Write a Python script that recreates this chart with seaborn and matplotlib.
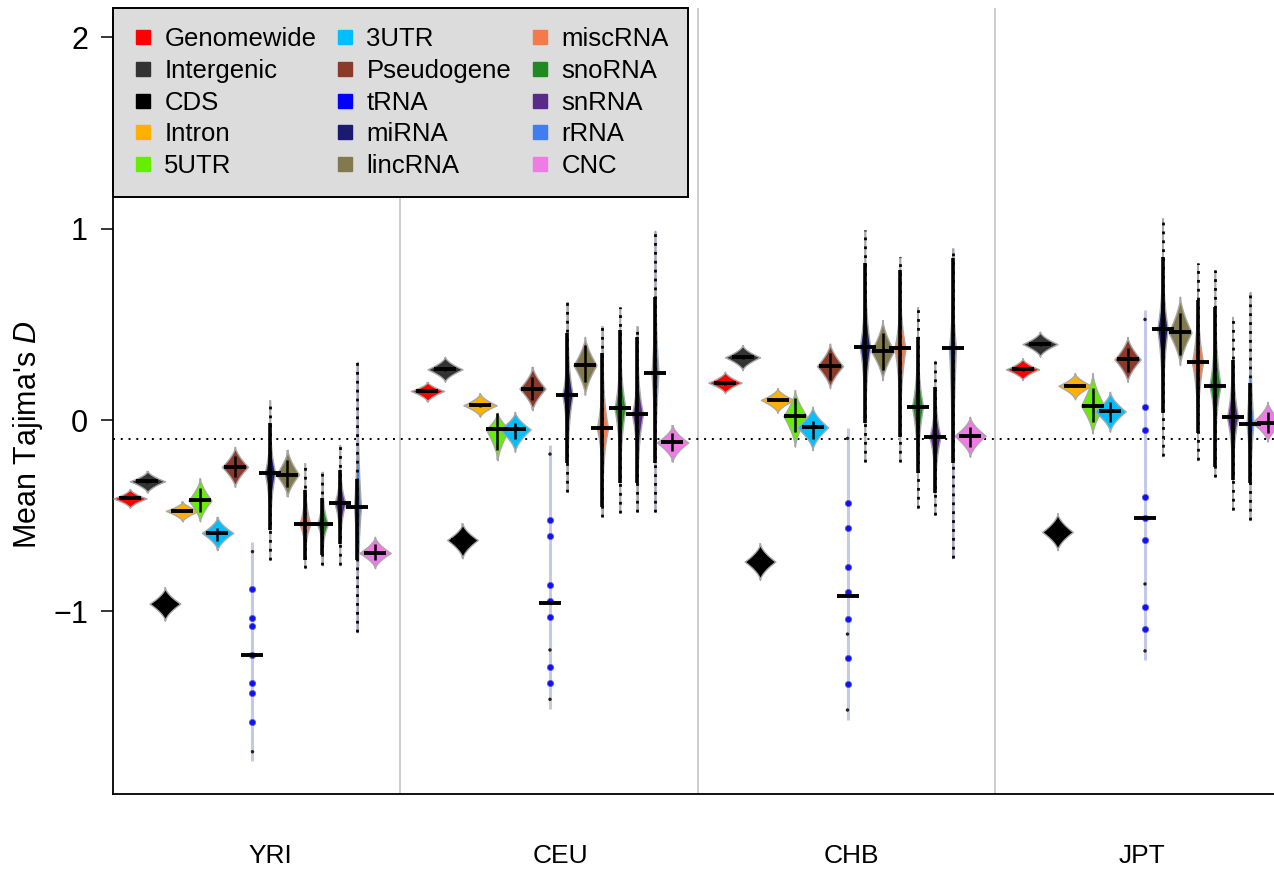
import numpy as np
import pandas as pd
import matplotlib
matplotlib.use("Agg")
import matplotlib.pyplot as plt
from matplotlib.lines import Line2D
import seaborn as sns

# ---------------------------------------------------------------- data
populations = ["YRI", "CEU", "CHB", "JPT"]
categories = ["Genomewide", "Intergenic", "CDS", "Intron", "5UTR", "3UTR",
              "Pseudogene", "tRNA", "miRNA", "lincRNA", "miscRNA", "snoRNA",
              "snRNA", "rRNA", "CNC"]

# mean Tajima's D per annotation class
mean_YRI = [-0.41, -0.32, -0.96, -0.475, -0.42, -0.59, -0.245, -1.23, -0.275,
            -0.285, -0.545, -0.545, -0.435, -0.455, -0.695]
mean_CEU = [0.152, 0.265, -0.627, 0.077, -0.049, -0.049, 0.164, -0.955, 0.131,
            0.287, -0.044, 0.061, 0.030, 0.247, -0.117]
mean_CHB = [0.195, 0.328, -0.74, 0.105, 0.021, -0.038, 0.282, -0.918, 0.38,
            0.36, 0.375, 0.07, -0.089, 0.375, -0.082]
mean_JPT = [0.265, 0.397, -0.585, 0.179, 0.075, 0.045, 0.317, -0.512, 0.476,
            0.458, 0.301, 0.179, 0.014, -0.019, -0.014]

# full range of the bootstrap distribution
low_YRI = [-0.46, -0.38, -1.05, -0.53, -0.53, -0.68, -0.35, -1.78, -0.73,
           -0.40, -0.775, -0.76, -0.76, -1.11, -0.775]
high_YRI = [-0.36, -0.265, -0.875, -0.425, -0.305, -0.505, -0.14, -0.635, 0.105,
            -0.155, -0.225, -0.27, -0.13, 0.305, -0.61]
low_CEU = [0.096, 0.20, -0.723, 0.017, -0.21, -0.166, 0.052, -1.51, -0.375,
           0.131, -0.505, -0.484, -0.48, -0.48, -0.218]
high_CEU = [0.20, 0.331, -0.54, 0.14, 0.038, 0.043, 0.279, -0.13, 0.618,
            0.435, 0.49, 0.59, 0.49, 0.99, -0.026]
low_CHB = [0.14, 0.261, -0.836, 0.038, -0.139, -0.157, 0.166, -1.568, -0.218,
           0.209, -0.218, -0.46, -0.497, -0.723, -0.192]
high_CHB = [0.253, 0.392, -0.645, 0.166, 0.157, 0.07, 0.40, -0.044, 0.993,
            0.523, 0.854, 0.59, 0.31, 0.898, 0.017]
low_JPT = [0.209, 0.331, -0.68, 0.108, -0.07, -0.061, 0.20, -1.255, -0.19,
           0.287, -0.21, -0.296, -0.47, -0.523, -0.113]
high_JPT = [0.322, 0.462, -0.488, 0.244, 0.244, 0.148, 0.435, 0.575, 1.054,
            0.645, 0.82, 0.784, 0.54, 0.67, 0.096]

# dense central part of each distribution
core_low_YRI = [-0.415, -0.33, -0.97, -0.48, -0.48, -0.63, -0.30, -1.23, -0.575,
                -0.35, -0.73, -0.705, -0.65, -0.73, -0.73]
core_high_YRI = [-0.40, -0.31, -0.95, -0.47, -0.355, -0.565, -0.19, -1.23, -0.015,
                 -0.21, -0.365, -0.41, -0.26, -0.31, -0.65]
core_low_CEU = [0.145, 0.255, -0.637, 0.07, -0.157, -0.10, 0.105, -0.955, -0.226,
                0.20, -0.453, -0.331, -0.331, -0.226, -0.16]
core_high_CEU = [0.16, 0.275, -0.617, 0.085, 0.035, -0.013, 0.227, -0.955, 0.453,
                 0.392, 0.349, 0.47, 0.435, 0.644, -0.07]
core_low_CHB = [0.185, 0.318, -0.75, 0.098, -0.061, -0.10, 0.209, -0.918, -0.017,
                0.261, -0.087, -0.279, -0.383, -0.226, -0.14]
core_high_CHB = [0.205, 0.338, -0.73, 0.112, 0.113, -0.007, 0.349, -0.918, 0.819,
                 0.453, 0.784, 0.435, 0.174, 0.845, -0.035]
core_low_JPT = [0.255, 0.387, -0.595, 0.172, -0.009, -0.009, 0.252, -0.512, 0.035,
                0.34, -0.07, -0.244, -0.314, -0.331, -0.07]
core_high_JPT = [0.275, 0.407, -0.575, 0.186, 0.166, 0.096, 0.375, -0.512, 0.854,
                 0.558, 0.627, 0.592, 0.314, 0.192, 0.043]

# tRNA bootstrap values (few genes -> discrete values)
trna_dense_YRI = [-0.884, -1.037, -1.077, -1.228, -1.377, -1.425, -1.577]
trna_sparse_YRI = [-0.688, -1.734]
trna_dense_CEU = [-0.523, -0.606, -0.862, -0.945, -1.031, -1.29, -1.377]
trna_sparse_CEU = [-0.178, -1.202, -1.46]
trna_dense_CHB = [-0.436, -0.566, -0.77, -0.897, -1.042, -1.246, -1.38]
trna_sparse_CHB = [-0.096, -1.119, -1.516]
trna_dense_JPT = [0.066, -0.052, -0.401, -0.514, -0.627, -0.976, -1.094]
trna_sparse_JPT = [0.526, -0.857, -1.207]

neutral_line = -0.1

# ---------------------------------------------------------------- styles
colors = ["#ff0000", "#333333", "#000000", "#ffb000", "#66ee00", "#00bfff",
          "#8b3a2a", "#0000ff", "#1a1a6e", "#827a4e", "#f47a4a", "#1f8a1f",
          "#5a2a8a", "#3f7df0", "#f07ae6"]
half_width = [0.95, 1.0, 0.88, 0.95, 0.66, 0.9, 0.75, 0.12, 0.3, 0.66,
              0.32, 0.32, 0.32, 0.2, 0.9]
peak = [1.6, 1.6, 1.6, 1.6, 1.5, 1.6, 1.5, 0.0, 3.5, 1.5, 3.5, 3.5, 3.5, 3.0, 1.6]
rna_like = {"miRNA", "miscRNA", "snoRNA", "snRNA", "rRNA"}
slots_per_group = 17

sns.set_theme(style="white")
plt.rcParams["font.family"] = ["Liberation Sans", "DejaVu Sans"]
plt.rcParams["mathtext.fontset"] = "custom"
plt.rcParams["mathtext.rm"] = "Liberation Sans"
plt.rcParams["mathtext.it"] = "Liberation Sans:italic"
for key in ("text.color", "axes.labelcolor", "xtick.color", "ytick.color"):
    plt.rcParams[key] = "black"

tables = {
    "YRI": (mean_YRI, low_YRI, high_YRI, core_low_YRI, core_high_YRI),
    "CEU": (mean_CEU, low_CEU, high_CEU, core_low_CEU, core_high_CEU),
    "CHB": (mean_CHB, low_CHB, high_CHB, core_low_CHB, core_high_CHB),
    "JPT": (mean_JPT, low_JPT, high_JPT, core_low_JPT, core_high_JPT),
}
rows = []
for g, pop in enumerate(populations):
    m, lo, hi, clo, chi = tables[pop]
    for i, cat in enumerate(categories):
        rows.append(dict(pop=pop, category=cat, idx=i,
                         x=g * slots_per_group + i, mean=m[i], low=lo[i],
                         high=hi[i], core_low=clo[i], core_high=chi[i]))
df = pd.DataFrame(rows)

trna_dense = {"YRI": trna_dense_YRI, "CEU": trna_dense_CEU,
              "CHB": trna_dense_CHB, "JPT": trna_dense_JPT}
trna_sparse = {"YRI": trna_sparse_YRI, "CEU": trna_sparse_CEU,
               "CHB": trna_sparse_CHB, "JPT": trna_sparse_JPT}
trna_points = []
for g, pop in enumerate(populations):
    xpos = g * slots_per_group + categories.index("tRNA")
    trna_points += [dict(x=xpos, value=v, kind="dense") for v in trna_dense[pop]]
    trna_points += [dict(x=xpos, value=v, kind="sparse") for v in trna_sparse[pop]]
trna_df = pd.DataFrame(trna_points)

# ---------------------------------------------------------------- figure
fig = plt.figure(figsize=(12.74, 8.69), dpi=100)
ax = fig.add_axes([113 / 1274, 75 / 869, 1 - 113 / 1274, 786 / 869])
ax.set_xlim(-0.97, 65.37)
ax.set_ylim(-1.955, 2.154)

# group separators and neutral reference line
for g in range(1, len(populations)):
    ax.axvline(g * slots_per_group - 1.57, color="#c4c4c4", lw=1.2, zorder=1)
ax.axhline(neutral_line, color="black", lw=1.4, ls=(0, (1, 3)), zorder=1)

for _, r in df.iterrows():
    i = r["idx"]
    cat = r["category"]
    col = colors[i]
    # thin tail of the distribution
    tail_col = "#c5c8e6" if cat in ("tRNA", "rRNA") else "#b8b8b8"
    ax.vlines(r["x"], r["low"], r["high"], color=tail_col,
              lw=2.2 if cat in ("tRNA", "rRNA") else 1.2, zorder=2)
    # bean shape
    yy = np.linspace(r["low"], r["high"], 300)
    up = max(r["high"] - r["mean"], 1e-6)
    dn = max(r["mean"] - r["low"], 1e-6)
    t = np.where(yy >= r["mean"], (yy - r["mean"]) / up, (r["mean"] - yy) / dn)
    t = np.clip(t, 0, 1)
    w = half_width[i] * (1 - t) ** peak[i]
    if cat != "tRNA":
        ax.fill_betweenx(yy, r["x"] - w, r["x"] + w, facecolor=col,
                         edgecolor="#a8a8a8", lw=1.0, zorder=3)
    if cat in rna_like:
        ax.vlines(r["x"], r["low"], r["high"], color="black", lw=2.0,
                  ls=(0, (1, 2.2)), zorder=4)
        ax.vlines(r["x"], r["core_low"], r["core_high"], color="black",
                  lw=2.6, zorder=5)
    elif cat != "tRNA":
        ax.vlines(r["x"], r["core_low"], r["core_high"], color="black",
                  lw=1.8, zorder=5)

# tRNA discrete values
sns.scatterplot(data=trna_df[trna_df["kind"] == "dense"], x="x", y="value",
                color="#1010ff", edgecolor="#6060c8", s=20, linewidth=0.6,
                zorder=6, ax=ax, legend=False)
sns.scatterplot(data=trna_df[trna_df["kind"] == "sparse"], x="x", y="value",
                color="#202020", edgecolor="none", s=6, zorder=6, ax=ax,
                legend=False)

# means
sns.scatterplot(data=df, x="x", y="mean", marker="_", s=270, color="black",
                linewidth=2.8, zorder=7, ax=ax, legend=False)

# ---------------------------------------------------------------- axes
ax.set_yticks([-1, 0, 1, 2])
ax.set_yticklabels(["\u22121", "0", "1", "2"])
ax.tick_params(axis="y", length=9, width=1.1, pad=9, labelsize=22,
               color="black", labelcolor="black", left=True, direction="out")
ax.set_xticks([8.0, 24.6, 41.2, 57.8])
ax.set_xticklabels(populations)
ax.tick_params(axis="x", length=0, pad=36, labelsize=19, labelcolor="black")
ax.set_xlabel("")
ax.set_ylabel("Mean Tajima's $\\mathit{D}$", fontsize=22, color="black")
ax.yaxis.set_label_coords(-0.059, 0.457)
for side in ("top", "right"):
    ax.spines[side].set_visible(False)
for side in ("left", "bottom"):
    ax.spines[side].set_color("black")
    ax.spines[side].set_linewidth(1.3)

handles = [Line2D([], [], linestyle="none", marker="s", markersize=10,
                  markerfacecolor=c, markeredgecolor=c) for c in colors]
leg = ax.legend(handles, categories, ncol=3, loc="upper left",
                bbox_to_anchor=(0, 1), borderaxespad=0, frameon=True,
                fancybox=False, framealpha=1, facecolor="#dcdcdc",
                edgecolor="black", fontsize=18.5, handlelength=0.8,
                handletextpad=0.45, columnspacing=0.7, labelspacing=0.3,
                borderpad=0.75, labelcolor="black")
leg.get_frame().set_linewidth(1.4)
leg.set_zorder(10)

fig.savefig("out.png", dpi=100)
